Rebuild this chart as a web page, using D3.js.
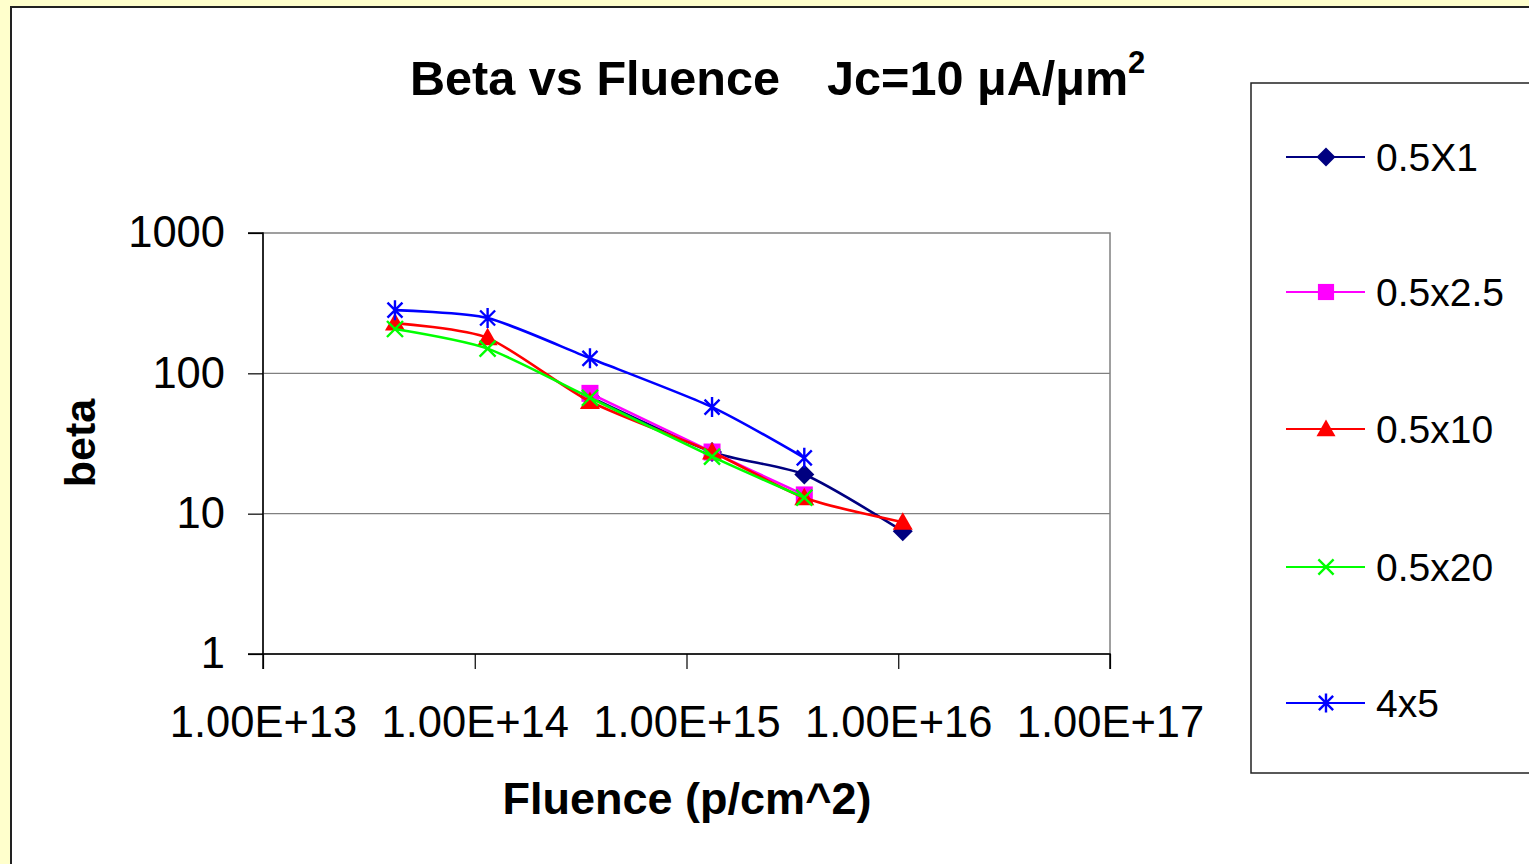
<!DOCTYPE html>
<html>
<head>
<meta charset="utf-8">
<script src="https://d3js.org/d3.v7.min.js"></script>
<style>
  html, body { margin: 0; padding: 0; background: #ffffcc; }
  #canvas { width: 1529px; height: 864px; }
  text { font-family: Arial, "Liberation Sans", sans-serif; fill: #000; }
</style>
</head>
<body>
<div id="canvas" class="canvas"></div>
<script>
// data
var fluence = [4.2e13, 1.15e14, 3.5e14, 1.32e15, 3.6e15, 1.05e16];
var seriesNames = ['0.5X1', '0.5x2.5', '0.5x10', '0.5x20', '4x5'];
var beta05x1  = [null, null, 68, 27.5, 19, 7.5];
var beta05x25 = [null, null, 72, 27.5, 13.6, null];
var beta05x10 = [228, 179, 63, 27.5, 13, 8.7];
var beta05x20 = [207, 150, 67, 25.5, 13, null];
var beta4x5   = [282, 248, 128, 57.5, 25, null];
var xTicks = [1e13, 1e14, 1e15, 1e16, 1e17];
var xTickLabels = ['1.00E+13', '1.00E+14', '1.00E+15', '1.00E+16', '1.00E+17'];
var yTicks = [1, 10, 100, 1000];
var yTickLabels = ['1', '10', '100', '1000'];

var series = [
  {name: seriesNames[0], values: beta05x1,  color: '#000080', marker: 'diamond'},
  {name: seriesNames[1], values: beta05x25, color: '#ff00ff', marker: 'square'},
  {name: seriesNames[2], values: beta05x10, color: '#ff0000', marker: 'triangle'},
  {name: seriesNames[3], values: beta05x20, color: '#00ff00', marker: 'x'},
  {name: seriesNames[4], values: beta4x5,   color: '#0000ff', marker: 'star'}
];

var W = 1529, H = 864;
var svg = d3.select('.canvas').append('svg')
    .attr('width', W).attr('height', H);

// chart frame
svg.append('rect').attr('x', 0).attr('y', 0).attr('width', W).attr('height', H).attr('fill', '#ffffcc');
svg.append('rect').attr('x', 11).attr('y', 7).attr('width', W + 20).attr('height', H + 20)
    .attr('fill', '#fff').attr('stroke', '#222').attr('stroke-width', 2);

var x = d3.scaleLog().domain([1e13, 1e17]).range([263, 1110]);
var y = d3.scaleLog().domain([1, 1000]).range([654, 233]);

// plot area
svg.append('rect').attr('x', x.range()[0]).attr('y', y.range()[1])
    .attr('width', x.range()[1] - x.range()[0]).attr('height', y.range()[0] - y.range()[1])
    .attr('fill', '#fff').attr('stroke', '#808080').attr('stroke-width', 1.5);

svg.append('g').selectAll('line')
    .data([10, 100])
    .enter().append('line')
    .attr('x1', x.range()[0]).attr('x2', x.range()[1])
    .attr('y1', function(d){ return y(d); }).attr('y2', function(d){ return y(d); })
    .attr('stroke', '#808080').attr('stroke-width', 1.2);

var yAxis = svg.append('g')
    .attr('transform', 'translate(' + x.range()[0] + ',0)')
    .call(d3.axisLeft(y).tickValues(yTicks).tickSize(15).tickPadding(23)
      .tickFormat(function(d, i){ return yTickLabels[i]; }));

var xAxis = svg.append('g')
    .attr('transform', 'translate(0,' + y.range()[0] + ')')
    .call(d3.axisBottom(x).tickValues(xTicks).tickSize(15).tickPadding(37)
      .tickFormat(function(d, i){ return xTickLabels[i]; }));

[yAxis, xAxis].forEach(function(a){
  a.select('.domain').attr('stroke', '#000').attr('stroke-width', 1.5);
  a.selectAll('.tick line').attr('stroke', '#000').attr('stroke-width', 1.2);
  a.selectAll('.tick text').style('font-size', '43.5px').style('font-family', 'Arial, "Liberation Sans", sans-serif').attr('fill', '#000');
});
yAxis.select('.domain').attr('d', 'M-15,' + y.range()[1] + 'H0V' + y.range()[0] + 'H-15');
xAxis.select('.domain').attr('d', 'M' + x.range()[0] + ',15V0H' + x.range()[1] + 'V15');

// lines
var line = d3.line()
    .defined(function(d){ return d[1] != null; })
    .x(function(d){ return x(d[0]); })
    .y(function(d){ return y(d[1]); })
    .curve(d3.curveCardinal.tension(0.3));

function points(s) {
  return fluence.map(function(f, i){ return [f, s.values[i]]; })
    .filter(function(p){ return p[1] != null; });
}

function drawMarker(g, type, color, cx, cy, sz) {
  var h = sz / 2;
  if (type == 'diamond') {
    g.append('path').attr('d', 'M' + cx + ',' + (cy - h) + 'L' + (cx + h) + ',' + cy + 'L' + cx + ',' + (cy + h) + 'L' + (cx - h) + ',' + cy + 'Z')
      .attr('fill', color);
  } else if (type == 'square') {
    g.append('rect').attr('x', cx - h * 0.85).attr('y', cy - h * 0.85).attr('width', sz * 0.85).attr('height', sz * 0.85).attr('fill', color);
  } else if (type == 'triangle') {
    g.append('path').attr('d', 'M' + cx + ',' + (cy - h) + 'L' + (cx + h) + ',' + (cy + h * 0.75) + 'L' + (cx - h) + ',' + (cy + h * 0.75) + 'Z')
      .attr('fill', color);
  } else if (type == 'x') {
    var k = h * 0.8;
    g.append('path').attr('d', 'M' + (cx - k) + ',' + (cy - k) + 'L' + (cx + k) + ',' + (cy + k) + 'M' + (cx + k) + ',' + (cy - k) + 'L' + (cx - k) + ',' + (cy + k))
      .attr('stroke', color).attr('stroke-width', 2.4).attr('fill', 'none');
  } else if (type == 'star') {
    var k2 = h * 0.75;
    g.append('path').attr('d', 'M' + (cx - k2) + ',' + (cy - k2) + 'L' + (cx + k2) + ',' + (cy + k2) + 'M' + (cx + k2) + ',' + (cy - k2) + 'L' + (cx - k2) + ',' + (cy + k2) +
        'M' + cx + ',' + (cy - h) + 'L' + cx + ',' + (cy + h))
      .attr('stroke', color).attr('stroke-width', 2.4).attr('fill', 'none');
  }
}

var plot = svg.append('g').attr('class', 'plot');
series.forEach(function(s){
  var g = plot.append('g');
  g.append('path').datum(points(s))
    .attr('d', line)
    .attr('fill', 'none')
    .attr('stroke', s.color)
    .attr('stroke-width', 2.6);
  points(s).forEach(function(p){
    drawMarker(g, s.marker, s.color, x(p[0]), y(p[1]), 20);
  });
});

// titles
var title = svg.append('text').attr('y', 95).style('font-size', '48.6px').style('font-weight', 'bold');
title.append('tspan').attr('x', 410).text('Beta vs Fluence');
title.append('tspan').attr('x', 827).text('Jc=10 \u03bcA/\u03bcm');
svg.append('text').attr('x', 1128).attr('y', 73).style('font-size', '31px').style('font-weight', 'bold').text('2');

svg.append('text')
    .attr('x', 687).attr('y', 814)
    .attr('text-anchor', 'middle')
    .style('font-size', '45px').style('font-weight', 'bold')
    .text('Fluence (p/cm^2)');

svg.append('text')
    .attr('transform', 'translate(95,443) rotate(-90)')
    .attr('text-anchor', 'middle')
    .style('font-size', '43px').style('font-weight', 'bold')
    .text('beta');

// legend
var legendY = [157, 292, 429, 567, 703];
svg.append('rect').attr('x', 1251).attr('y', 83).attr('width', 300).attr('height', 690)
    .attr('fill', '#fff').attr('stroke', '#222').attr('stroke-width', 1.5);
var legend = svg.append('g').selectAll('g')
    .data(series)
    .enter().append('g');
legend.each(function(s, i){
  var g = d3.select(this);
  var ly = legendY[i];
  g.append('line').attr('x1', 1286).attr('x2', 1365).attr('y1', ly).attr('y2', ly)
    .attr('stroke', s.color).attr('stroke-width', 2.2);
  drawMarker(g, s.marker, s.color, 1326, ly, 19);
  g.append('text').attr('x', 1376).attr('y', ly + 14).style('font-size', '39px').text(s.name);
});
</script>
</body>
</html>
